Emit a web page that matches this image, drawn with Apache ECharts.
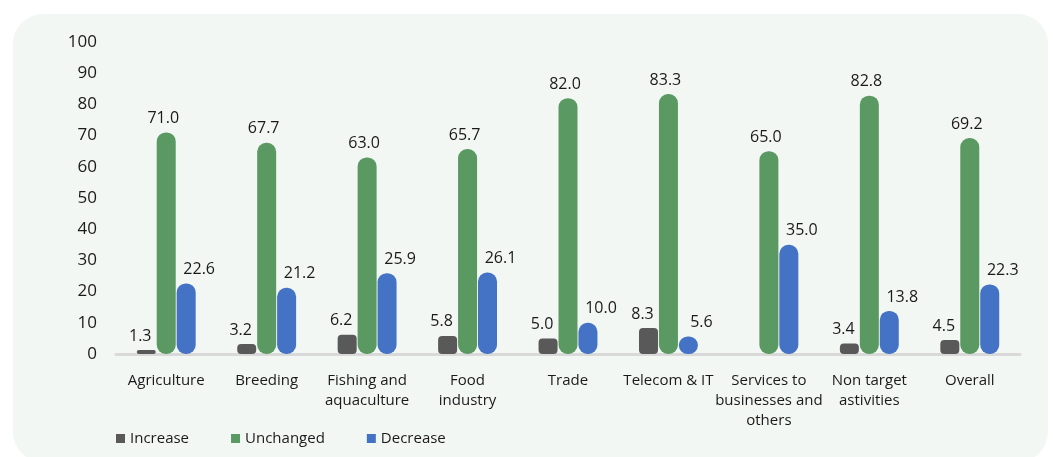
<!DOCTYPE html>
<html>
<head>
<meta charset="utf-8">
<script src="https://cdn.jsdelivr.net/npm/echarts@6/dist/echarts.min.js"></script>
<style>
  html, body { margin: 0; padding: 0; background: #ffffff; }
  #chart { width: 1053px; height: 457px; }
</style>
</head>
<body>
<div id="chart"></div>
<script>
// Sectors surveyed
const categories = [
  'Agriculture', 'Breeding', 'Fishing and\naquaculture', 'Food\nindustry', 'Trade',
  'Telecom & IT', 'Services to\nbusinesses and\nothers', 'Non target\nastivities', 'Overall'
];
// Share of respondents (%) per answer
const increase  = [1.3, 3.2, 6.2, 5.8, 5.0, 8.3, null, 3.4, 4.5];
const unchanged = [71.0, 67.7, 63.0, 65.7, 82.0, 83.3, 65.0, 82.8, 69.2];
const decrease  = [22.6, 21.2, 25.9, 26.1, 10.0, 5.6, 35.0, 13.8, 22.3];
const seriesNames = ['Increase', 'Unchanged', 'Decrease'];
const colors = ['#595959', '#5b9963', '#4472c4'];

const FONT = '"Open Sans", "Noto Sans", sans-serif';

function barSeries(name, data, color, radius, labelShift) {
  return {
    name: name,
    type: 'bar',
    data: data,
    barWidth: 19,
    barGap: '5%',
    itemStyle: { color: color, borderRadius: radius },
    label: {
      show: true,
      position: 'top',
      distance: 6,
      offset: [labelShift, 0],
      color: '#1a1a1a',
      fontFamily: FONT,
      fontSize: 16,
      formatter: p => p.value == null ? '' : Number(p.value).toFixed(1)
    }
  };
}

const chart = echarts.init(document.getElementById('chart'), null, { renderer: 'canvas' });
chart.setOption({
  backgroundColor: '#ffffff',
  animation: false,
  color: colors,
  graphic: [{
    type: 'rect',
    z: -10,
    shape: { x: 13, y: 14, width: 1035, height: 448, r: 30 },
    style: { fill: '#f3f7f4' }
  }],
  grid: { left: 116, right: 33, top: 42, bottom: 103 },
  legend: {
    data: seriesNames,
    left: 111,
    top: 426,
    icon: 'rect',
    itemWidth: 9,
    itemHeight: 9,
    itemGap: 42,
    textStyle: { fontFamily: FONT, fontSize: 15, color: '#1a1a1a' }
  },
  xAxis: {
    type: 'category',
    data: categories,
    axisLine: { show: true, lineStyle: { color: '#d9d9d9', width: 3 } },
    axisTick: { show: false },
    axisLabel: {
      margin: 17,
      color: '#1a1a1a',
      fontFamily: FONT,
      fontSize: 15,
      lineHeight: 20,
      interval: 0
    }
  },
  yAxis: {
    type: 'value',
    min: 0,
    max: 100,
    interval: 10,
    splitLine: { show: false },
    axisLine: { show: false },
    axisTick: { show: false },
    axisLabel: {
      margin: 19,
      color: '#1a1a1a',
      fontFamily: FONT,
      fontSize: 17
    }
  },
  series: [
    barSeries(seriesNames[0], increase, colors[0], 4, -6),
    barSeries(seriesNames[1], unchanged, colors[1], 9, -3),
    barSeries(seriesNames[2], decrease, colors[2], 9, 13)
  ]
});
</script>
</body>
</html>
